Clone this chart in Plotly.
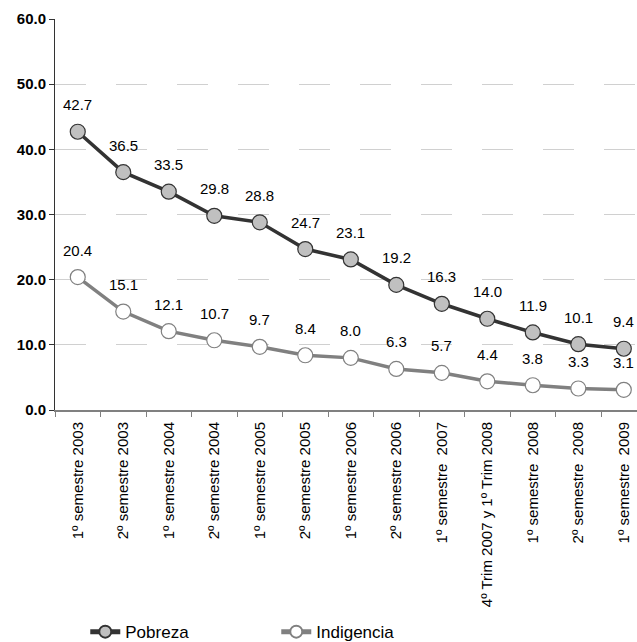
import plotly.graph_objects as go

categories = ["1º semestre 2003", "2º semestre 2003", "1º semestre 2004", "2º semestre 2004",
              "1º semestre 2005", "2º semestre 2005", "1º semestre 2006", "2º semestre 2006",
              "1º semestre  2007", "4º Trim 2007 y 1º Trim 2008", "1º semestre  2008",
              "2º semestre  2008", "1º semestre  2009"]
pobreza = [42.7, 36.5, 33.5, 29.8, 28.8, 24.7, 23.1, 19.2, 16.3, 14.0, 11.9, 10.1, 9.4]
indigencia = [20.4, 15.1, 12.1, 10.7, 9.7, 8.4, 8.0, 6.3, 5.7, 4.4, 3.8, 3.3, 3.1]
yticks = [0, 10, 20, 30, 40, 50, 60]

FONT = "Liberation Sans, Arial, sans-serif"

fig = go.Figure()
fig.add_trace(go.Scatter(
    x=categories, y=pobreza, name="Pobreza", mode="lines+markers",
    line=dict(color="#333333", width=3.5),
    marker=dict(size=15, color="#c0c0c0", line=dict(color="#333333", width=1.2)),
    cliponaxis=False,
))
fig.add_trace(go.Scatter(
    x=categories, y=indigencia, name="Indigencia", mode="lines+markers",
    line=dict(color="#808080", width=3.5),
    marker=dict(size=15, color="#ffffff", line=dict(color="#808080", width=1.2)),
    cliponaxis=False,
))

for series in (pobreza, indigencia):
    for c, v in zip(categories, series):
        fig.add_annotation(x=c, y=v, text=f"{v:.1f}", showarrow=False, yshift=27,
                           font=dict(family=FONT, size=15, color="#000000"))

fig.update_layout(
    width=637, height=642,
    margin=dict(l=55, r=0, t=19, b=232, autoexpand=False),
    paper_bgcolor="white", plot_bgcolor="white",
    font=dict(family=FONT, color="#000000"),
    showlegend=True,
    legend=dict(orientation="h", x=0.052, y=-0.568, xanchor="left", yanchor="middle",
                font=dict(family=FONT, size=17), entrywidth=146, entrywidthmode="pixels",
                itemsizing="constant", tracegroupgap=0),
    xaxis=dict(type="category", range=[-0.5, 12.29], tickangle=-90, automargin=False,
               tickfont=dict(family=FONT, size=15), showgrid=False,
               showline=True, linecolor="#808080", linewidth=2,
               ticks="outside", tickson="boundaries", ticklen=5, tickcolor="#808080",
               tickwidth=1, ticklabelstandoff=4),
    yaxis=dict(range=[0, 60], tickvals=yticks, ticktext=[f"<b>{t:.1f}</b>" for t in yticks],
               tickfont=dict(family=FONT, size=15), showgrid=True, automargin=False,
               gridcolor="#d0d0d0", gridwidth=1, griddash="31px,30px",
               showline=True, linecolor="#333333", linewidth=1,
               ticks="outside", ticklen=5, tickcolor="#333333", zeroline=False),
)

fig.write_html("out.html", config={"displayModeBar": False},
               post_script="document.body.style.margin='0';document.body.style.overflow='hidden';")
